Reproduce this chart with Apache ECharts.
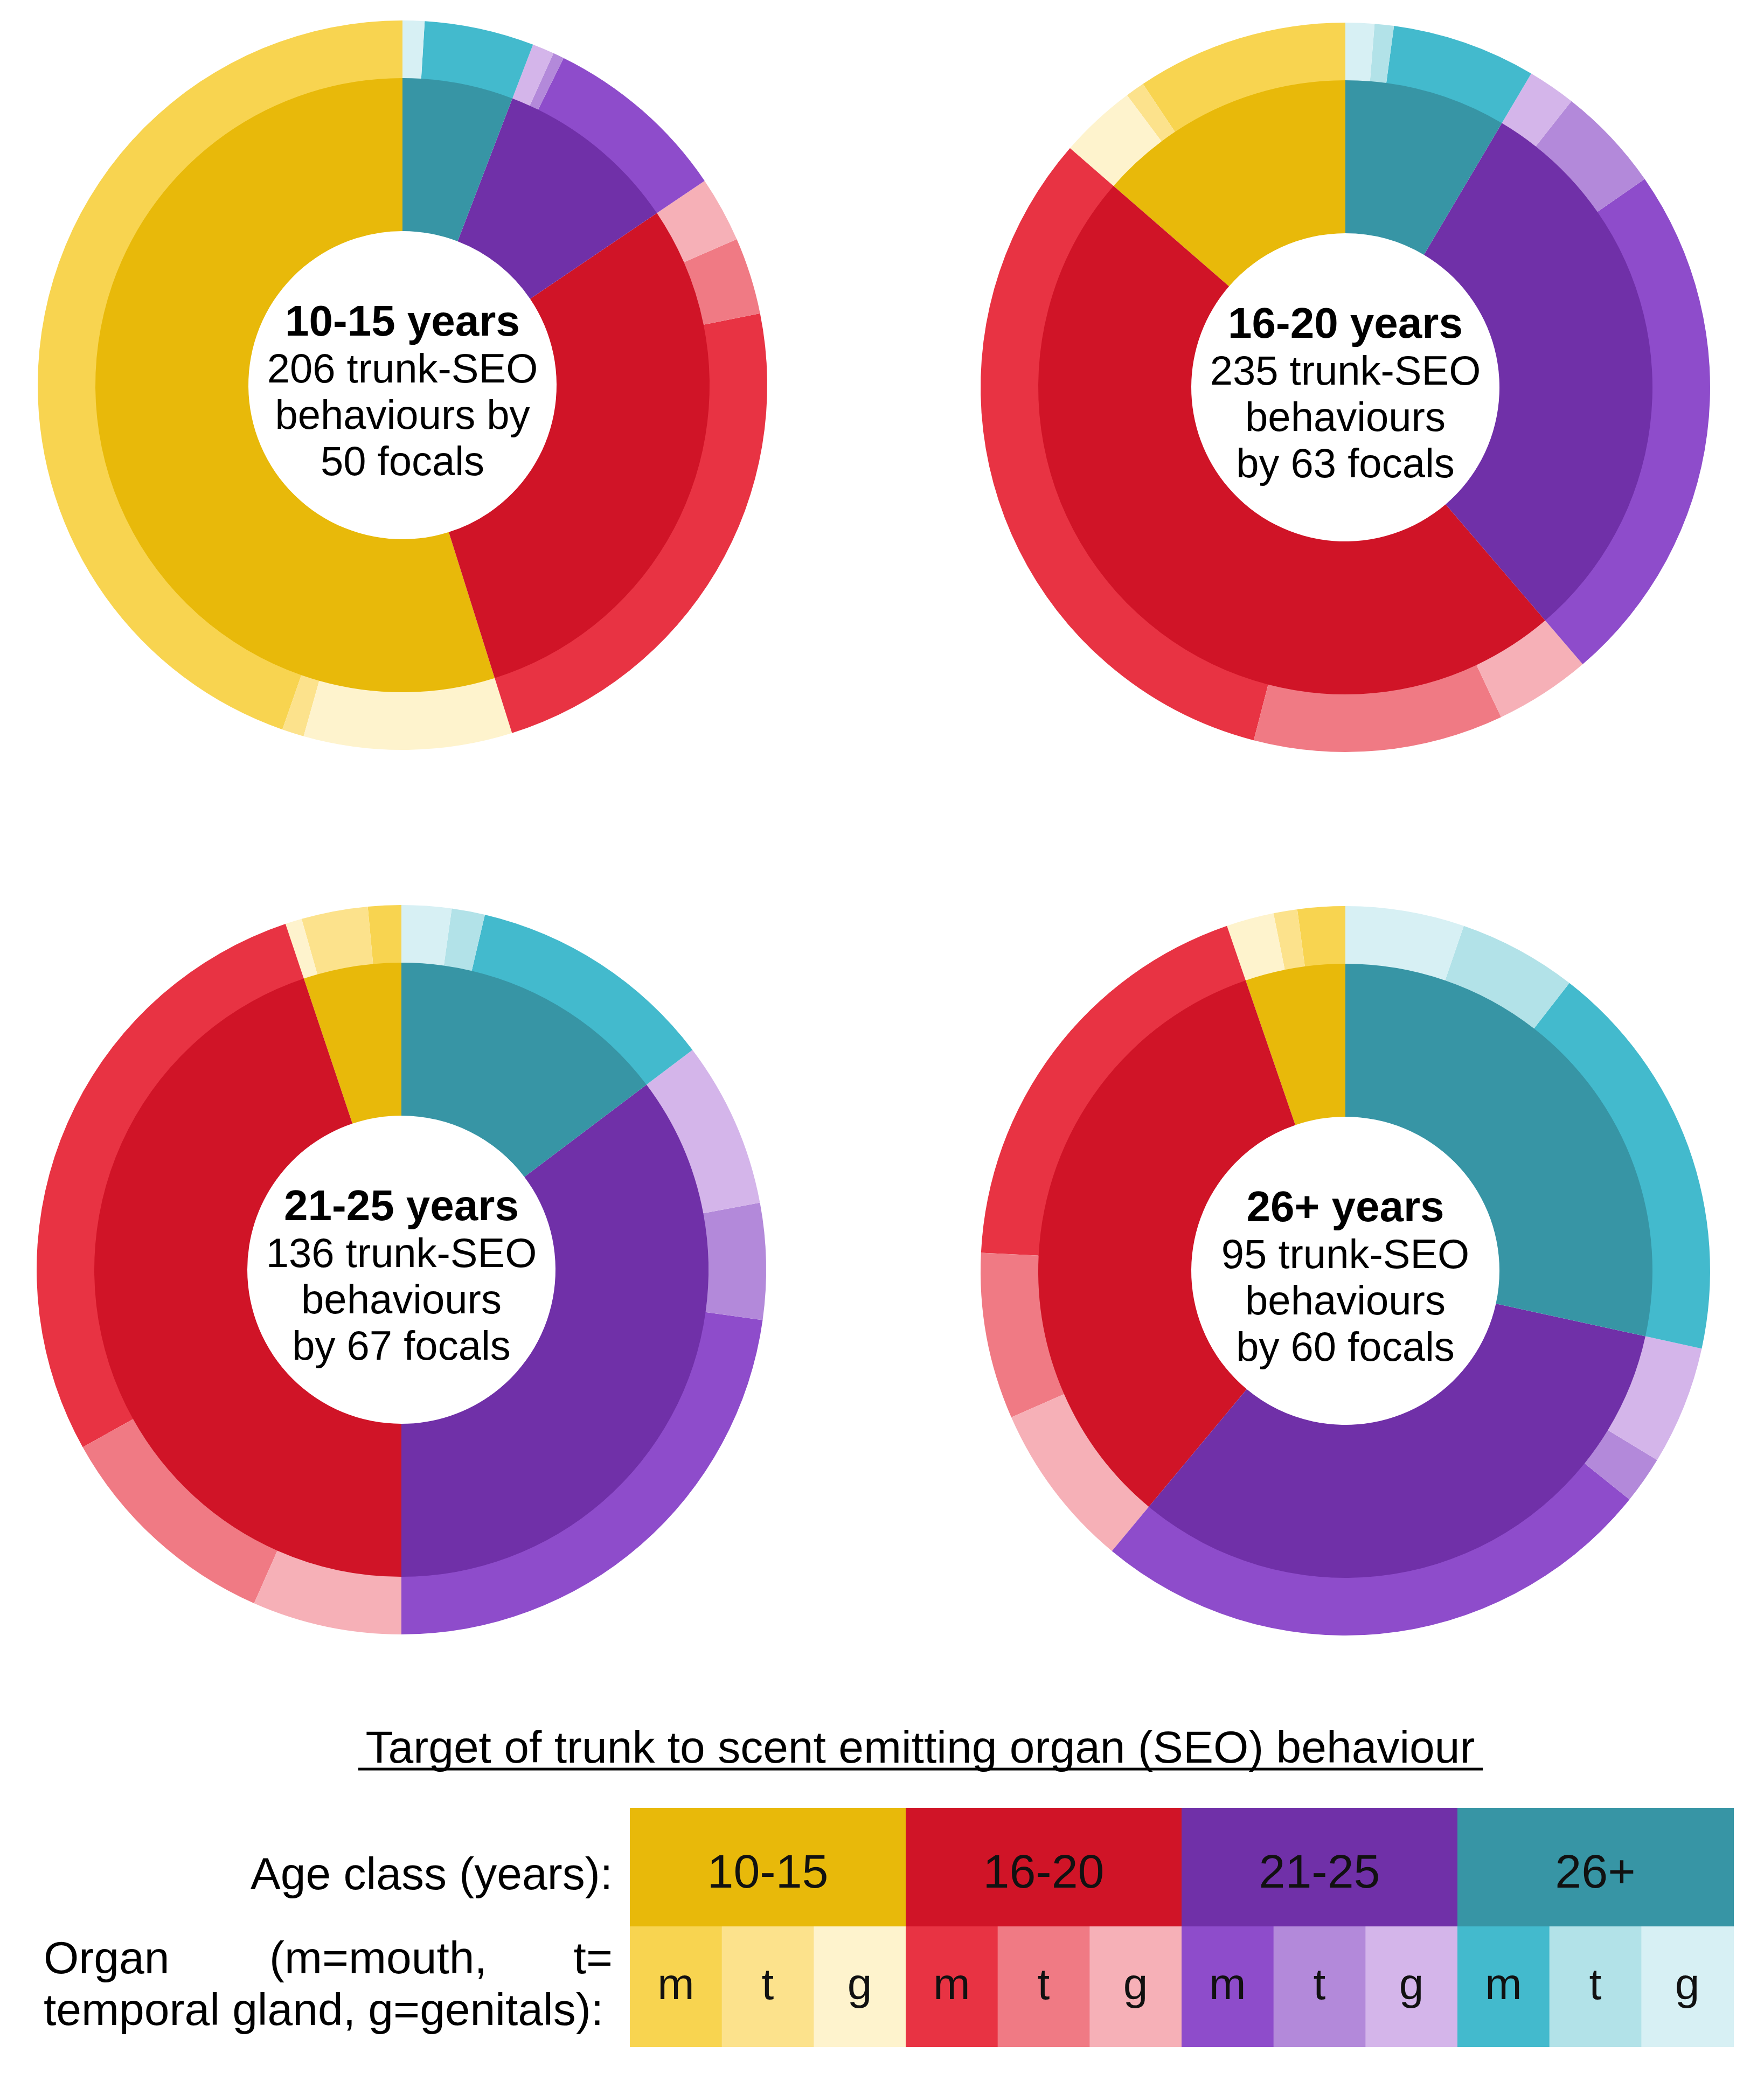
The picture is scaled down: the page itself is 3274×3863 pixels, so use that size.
<!DOCTYPE html>
<html>
<head>
<meta charset="utf-8">
<script src="https://cdn.jsdelivr.net/npm/echarts@6/dist/echarts.min.js"></script>
<style>
    html, body { margin: 0; padding: 0; background: #fff; }
    #main { width: 3274px; height: 3863px; }
</style>
</head>
<body>
<div id="main"></div>
<script type="text/javascript">
    // target age classes and organs
    var ageClasses = ['10-15', '16-20', '21-25', '26+'];
    var organs = ['m', 't', 'g'];

    // one panel per focal age class
    var panelNames = ['10-15 years', '16-20 years', '21-25 years', '26+ years'];
    var panelLines = [
        ['206 trunk-SEO', 'behaviours by', '50 focals'],
        ['235 trunk-SEO', 'behaviours', 'by 63 focals'],
        ['136 trunk-SEO', 'behaviours', 'by 67 focals'],
        ['95 trunk-SEO', 'behaviours', 'by 60 focals']
    ];

    // behaviours per target age class, as [m, t, g]
    var counts1015 = [[92, 2, 19], [48, 7, 6], [17, 1, 2], [10, 0, 2]];
    var counts1620 = [[22, 2, 8], [76, 26, 10], [55, 11, 5], [15, 2, 3]];
    var counts2125 = [[2, 4, 1], [38, 14, 9], [31, 7, 10], [15, 2, 3]];
    var counts26 = [[2, 1, 2], [18, 7, 7], [24, 2, 5], [17, 5, 5]];
    var panelCounts = [counts1015, counts1620, counts2125, counts26];

    var ageColors = ['#e8b90a', '#d01427', '#7030a8', '#3795a5'];
    var organColors = [
        ['#f8d450', '#fce28c', '#fef3cd'],
        ['#e83343', '#f07a84', '#f6b0b7'],
        ['#8e4ccb', '#b389da', '#d4b5ea'],
        ['#43bacd', '#b2e2e8', '#d7f0f4']
    ];

    var font = '"Liberation Sans", Arial, sans-serif';
    var centers = [[747, 715], [2497, 719], [745, 2357], [2497, 2359]];

    var series = [];
    var graphic = [];

    panelCounts.forEach(function (counts, p) {
        var inner = [];
        var outer = [];
        counts.forEach(function (row, a) {
            inner.push({
                name: ageClasses[a],
                value: row[0] + row[1] + row[2],
                itemStyle: {color: ageColors[a]}
            });
            row.forEach(function (v, o) {
                outer.push({
                    name: ageClasses[a] + ' ' + organs[o],
                    value: v,
                    itemStyle: {color: organColors[a][o]}
                });
            });
        });
        var base = {
            type: 'pie',
            center: centers[p],
            startAngle: 90,
            clockwise: false,
            silent: true,
            animation: false,
            label: {show: false},
            labelLine: {show: false},
            emphasis: {disabled: true},
            itemStyle: {borderWidth: 0}
        };
        series.push(Object.assign({}, base, {name: panelNames[p] + ' age', radius: [286, 571], data: inner}));
        series.push(Object.assign({}, base, {name: panelNames[p] + ' organ', radius: [570, 677], data: outer}));

        var cx = centers[p][0], cy = centers[p][1];
        graphic.push({
            type: 'text', x: cx, y: cy - 114,
            style: {text: panelNames[p], font: 'bold 80px ' + font, fill: '#000', align: 'center', verticalAlign: 'middle'}
        });
        panelLines[p].forEach(function (line, i) {
            graphic.push({
                type: 'text', x: cx, y: cy - 26 + i * 86,
                style: {text: line, font: '76px ' + font, fill: '#000', align: 'center', verticalAlign: 'middle'}
            });
        });
    });

    // legend block
    graphic.push({
        type: 'text', x: 1708, y: 3249,
        style: {text: 'Target of trunk to scent emitting organ (SEO) behaviour', font: '84px ' + font, fill: '#000', align: 'center', verticalAlign: 'middle'}
    });
    graphic.push({
        type: 'line', shape: {x1: 665, y1: 3284, x2: 2752, y2: 3284},
        style: {stroke: '#000', lineWidth: 5}
    });

    var tableLeft = 1169, colW = 512, row1 = 3356, rowH = 220;
    ageClasses.forEach(function (age, a) {
        var x0 = tableLeft + a * colW;
        graphic.push({
            type: 'rect', shape: {x: x0, y: row1, width: colW + 1, height: rowH},
            style: {fill: ageColors[a]}
        });
        graphic.push({
            type: 'text', x: x0 + colW / 2, y: row1 + rowH / 2 + 14,
            style: {text: age, font: '88px ' + font, fill: '#111', align: 'center', verticalAlign: 'middle'}
        });
        organs.forEach(function (org, o) {
            var sx = x0 + o * colW / 3;
            graphic.push({
                type: 'rect', shape: {x: sx, y: row1 + rowH, width: colW / 3 + 1, height: 224},
                style: {fill: organColors[a][o]}
            });
            graphic.push({
                type: 'text', x: sx + colW / 6, y: row1 + rowH + 112,
                style: {text: org, font: '82px ' + font, fill: '#111', align: 'center', verticalAlign: 'middle'}
            });
        });
    });

    graphic.push({
        type: 'text', x: 1137, y: 3484,
        style: {text: 'Age class (years):', font: '84px ' + font, fill: '#000', align: 'right', verticalAlign: 'middle'}
    });
    graphic.push({
        type: 'text', x: 81, y: 3640,
        style: {text: 'Organ', font: '84px ' + font, fill: '#000', align: 'left', verticalAlign: 'middle'}
    });
    graphic.push({
        type: 'text', x: 500, y: 3640,
        style: {text: '(m=mouth,', font: '84px ' + font, fill: '#000', align: 'left', verticalAlign: 'middle'}
    });
    graphic.push({
        type: 'text', x: 1137, y: 3640,
        style: {text: 't=', font: '84px ' + font, fill: '#000', align: 'right', verticalAlign: 'middle'}
    });
    graphic.push({
        type: 'text', x: 81, y: 3736,
        style: {text: 'temporal gland, g=genitals):', font: '84px ' + font, fill: '#000', align: 'left', verticalAlign: 'middle'}
    });

    var myChart = echarts.init(document.getElementById('main'));
    myChart.setOption({
        backgroundColor: '#fff',
        animation: false,
        series: series,
        graphic: graphic
    });
</script>
</body>
</html>
